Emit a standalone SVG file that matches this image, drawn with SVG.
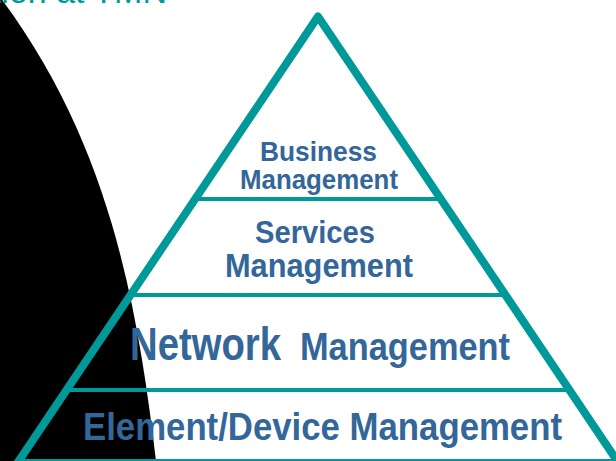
<svg xmlns="http://www.w3.org/2000/svg" width="616" height="461" viewBox="0 0 616 461">
  <style>
    .lbl { font-family: "Liberation Sans", Arial, sans-serif; font-weight: bold; fill: #336699; }
    .side { stroke: #009999; stroke-width: 8; fill: none; stroke-linejoin: round; stroke-linecap: round; }
    .layer { stroke: #009999; stroke-width: 4; stroke-linecap: round; fill: none; }
    .title { font-family: "Liberation Sans", Arial, sans-serif; fill: #009999; }
  </style>
  <rect width="616" height="461" fill="#ffffff"/>
  <path id="backdrop" d="M -5,-3 L 0,-3 C 112,147 138,311 156,461 L 157,470 L -5,470 Z" fill="#000000"/>
  <text class="title" x="167" y="3" font-size="34" text-anchor="end">Information at TMN</text>
  <g id="connectors">
    <line class="layer" x1="194.6" y1="199" x2="441.4" y2="199"/>
    <line class="layer" x1="129.5" y1="295" x2="506.5" y2="295"/>
    <line class="layer" x1="65" y1="390" x2="571" y2="390"/>
    <line class="layer" x1="17" y1="461" x2="619" y2="461"/>
    <polyline class="side" points="6,480 318,16.5 630,480"/>
  </g>
  <g id="business">
    <text class="lbl" x="260" y="161" font-size="27" textLength="117" lengthAdjust="spacingAndGlyphs">Business</text>
    <text class="lbl" x="240" y="189" font-size="27" textLength="158" lengthAdjust="spacingAndGlyphs">Management</text>
  </g>
  <g id="services">
    <text class="lbl" x="255" y="243" font-size="32" textLength="120" lengthAdjust="spacingAndGlyphs">Services</text>
    <text class="lbl" x="225" y="277" font-size="33" textLength="188" lengthAdjust="spacingAndGlyphs">Management</text>
  </g>
  <g id="network">
    <text class="lbl" x="130" y="360" font-size="46" textLength="151" lengthAdjust="spacingAndGlyphs">Network</text>
    <text class="lbl" x="300" y="360" font-size="38" textLength="210" lengthAdjust="spacingAndGlyphs">Management</text>
  </g>
  <g id="element">
    <text class="lbl" x="83" y="440" font-size="38" textLength="479" lengthAdjust="spacingAndGlyphs">Element/Device Management</text>
  </g>
</svg>
